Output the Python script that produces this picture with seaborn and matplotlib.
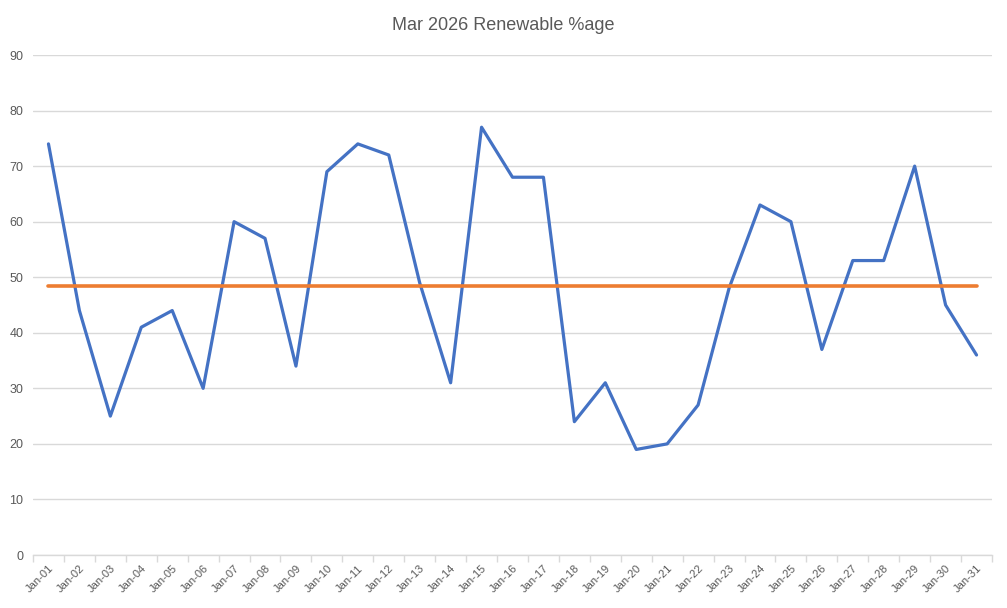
import numpy as np
import pandas as pd
import matplotlib
matplotlib.use('Agg')
import matplotlib.pyplot as plt
import seaborn as sns
from matplotlib.ticker import FixedLocator

days = [f'Jan-{d:02d}' for d in range(1, 32)]
renewable = [74, 44, 25, 41, 44, 30, 60, 57, 34, 69, 74, 72, 49, 31, 77, 68,
             68, 24, 31, 19, 20, 27, 48, 63, 60, 37, 53, 53, 70, 45, 36]

df = pd.DataFrame({'day': days, 'pct': renewable})
df['avg'] = np.mean(renewable)

sns.set_style('white')
plt.rcParams['font.family'] = ['Liberation Sans', 'DejaVu Sans']

fig = plt.figure(figsize=(10.07, 6.08), dpi=100)
ax = fig.add_axes([33 / 1007, 1 - 555 / 608, (992 - 33) / 1007, 500 / 608])

sns.lineplot(data=df, x='day', y='pct', color='#4472C4', linewidth=2.3, ax=ax, sort=False)
sns.lineplot(data=df, x='day', y='avg', color='#ED7D31', linewidth=2.6, ax=ax, sort=False)

ax.set_xlim(-0.5, len(days) - 0.5)
ax.set_ylim(0, 90)
ax.set_yticks(range(0, 91, 10))
ax.yaxis.grid(True, color='#D9D9D9', linewidth=1)
ax.set_axisbelow(True)
for s in ['top', 'right', 'left']:
    ax.spines[s].set_visible(False)
ax.spines['bottom'].set_color('#D9D9D9')
ax.spines['bottom'].set_linewidth(1)

ax.set_xticks(range(len(days)))
ax.set_xticklabels(days, rotation=45, ha='right', rotation_mode='anchor')
ax.xaxis.set_minor_locator(FixedLocator(np.arange(-0.5, len(days), 1)))
ax.tick_params(axis='x', which='major', length=0, pad=6, labelsize=8, labelcolor='#595959')
ax.tick_params(axis='x', which='minor', length=5, width=1, color='#D9D9D9', bottom=True)
ax.tick_params(axis='y', length=0, pad=7, labelsize=9, labelcolor='#595959')

ax.set_xlabel('')
ax.set_ylabel('')
fig.text(0.5, 1 - 26 / 608, 'Mar 2026 Renewable %age', ha='center', va='center',
         fontsize=13, color='#595959')

plt.savefig('out.png', dpi=100)
